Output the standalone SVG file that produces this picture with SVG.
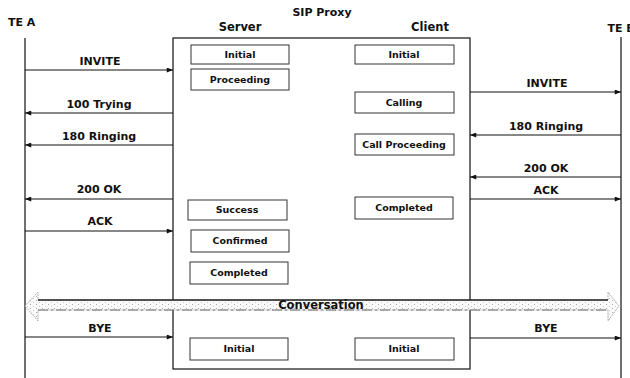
<svg xmlns="http://www.w3.org/2000/svg" width="630" height="378" viewBox="0 0 630 378">
<defs>
<style>
.t{font-family:"DejaVu Sans","Liberation Sans",sans-serif;font-weight:bold;fill:#111}
.lbl{font-size:11px;text-anchor:middle}
.st{font-size:9.5px;text-anchor:middle}
.box{fill:#fff;stroke:#333;stroke-width:1}
.ln{stroke:#111;stroke-width:1.2;fill:none}
.msg{stroke:#111;stroke-width:1.2;fill:none}
</style>
<marker id="ah" viewBox="0 0 10 8" refX="10" refY="4" markerWidth="9" markerHeight="5" markerUnits="userSpaceOnUse" orient="auto">
<path d="M0,0 L10,4 L0,8 z" fill="#111"/>
</marker>
<pattern id="dots" width="6" height="4" patternUnits="userSpaceOnUse">
<rect width="6" height="4" fill="#fafafa"/>
<rect x="0" y="0" width="1" height="1" fill="#aaa"/>
<rect x="3" y="2" width="1" height="1" fill="#ccc"/>
</pattern>
</defs>
<rect width="630" height="378" fill="#fff"/>

<g id="titles">
<text class="t" x="322" y="16" font-size="11" text-anchor="middle">SIP Proxy</text>
<text class="t" x="240" y="31" font-size="11.5" text-anchor="middle">Server</text>
<text class="t" x="430" y="31" font-size="11.5" text-anchor="middle">Client</text>
</g>

<g id="te-a">
<text class="t" x="8" y="26" font-size="11">TE A</text>
<line class="ln" x1="25" y1="38" x2="25" y2="378"/>
</g>
<g id="te-b">
<text class="t" x="607.5" y="32" font-size="11">TE B</text>
<line class="ln" x1="621" y1="37" x2="621" y2="378"/>
</g>

<g id="sip-proxy">
<rect x="173" y="38" width="297" height="331" fill="none" stroke="#111" stroke-width="1.2"/>
</g>

<g id="server-initial"><rect class="box" x="191" y="45" width="98" height="19"/><text class="t st" x="240" y="58">Initial</text></g>
<g id="server-proceeding"><rect class="box" x="191" y="69" width="98" height="21"/><text class="t st" x="240" y="83">Proceeding</text></g>
<g id="server-success"><rect class="box" x="188" y="200" width="99" height="20"/><text class="t st" x="237" y="213">Success</text></g>
<g id="server-confirmed"><rect class="box" x="191" y="230" width="98" height="22"/><text class="t st" x="240" y="244">Confirmed</text></g>
<g id="server-completed"><rect class="box" x="190" y="262" width="98" height="22"/><text class="t st" x="239" y="276">Completed</text></g>
<g id="server-initial-2"><rect class="box" x="190" y="338" width="98" height="22"/><text class="t st" x="239" y="352">Initial</text></g>

<g id="client-initial"><rect class="box" x="355" y="45" width="99" height="19"/><text class="t st" x="404" y="58">Initial</text></g>
<g id="client-calling"><rect class="box" x="355" y="92" width="99" height="21"/><text class="t st" x="404" y="106">Calling</text></g>
<g id="client-call-proceeding"><rect class="box" x="355" y="134" width="99" height="21"/><text class="t st" x="404" y="148">Call Proceeding</text></g>
<g id="client-completed"><rect class="box" x="355" y="197" width="98" height="22"/><text class="t st" x="404" y="211">Completed</text></g>
<g id="client-initial-2"><rect class="box" x="355" y="338" width="99" height="22"/><text class="t st" x="404" y="352">Initial</text></g>

<g id="connectors">
<line class="msg" x1="25" y1="70" x2="173" y2="70" marker-end="url(#ah)"/>
<line class="msg" x1="173" y1="113" x2="25" y2="113" marker-end="url(#ah)"/>
<line class="msg" x1="173" y1="145" x2="25" y2="145" marker-end="url(#ah)"/>
<line class="msg" x1="173" y1="199" x2="25" y2="199" marker-end="url(#ah)"/>
<line class="msg" x1="25" y1="231" x2="173" y2="231" marker-end="url(#ah)"/>
<line class="msg" x1="25" y1="337" x2="173" y2="337" marker-end="url(#ah)"/>
<line class="msg" x1="470" y1="92" x2="621" y2="92" marker-end="url(#ah)"/>
<line class="msg" x1="621" y1="135" x2="470" y2="135" marker-end="url(#ah)"/>
<line class="msg" x1="621" y1="177" x2="470" y2="177" marker-end="url(#ah)"/>
<line class="msg" x1="470" y1="199" x2="621" y2="199" marker-end="url(#ah)"/>
<line class="msg" x1="470" y1="338" x2="621" y2="338" marker-end="url(#ah)"/>
<polygon points="25,306 38,292 38,300 608,300 608,292 619,306 608,321 608,310 38,310 38,321" fill="url(#dots)" stroke="#999" stroke-width="0.8" stroke-dasharray="2 1"/>
<line x1="38" y1="300" x2="608" y2="300" stroke="#222" stroke-width="1.3"/>
<line x1="38" y1="310" x2="608" y2="310" stroke="#555" stroke-width="0.8" stroke-dasharray="10 3 2 3"/>
</g>

<g id="labels">
<text class="t lbl" x="100" y="65">INVITE</text>
<text class="t lbl" x="99" y="108">100 Trying</text>
<text class="t lbl" x="99" y="140">180 Ringing</text>
<text class="t lbl" x="99" y="193">200 OK</text>
<text class="t lbl" x="100" y="225">ACK</text>
<text class="t lbl" x="100" y="332">BYE</text>
<text class="t lbl" x="547" y="87">INVITE</text>
<text class="t lbl" x="546" y="130">180 Ringing</text>
<text class="t lbl" x="546" y="172">200 OK</text>
<text class="t lbl" x="546" y="194">ACK</text>
<text class="t lbl" x="546" y="332">BYE</text>
<text class="t" x="321" y="309" font-size="11.5" text-anchor="middle">Conversation</text>
</g>
</svg>
